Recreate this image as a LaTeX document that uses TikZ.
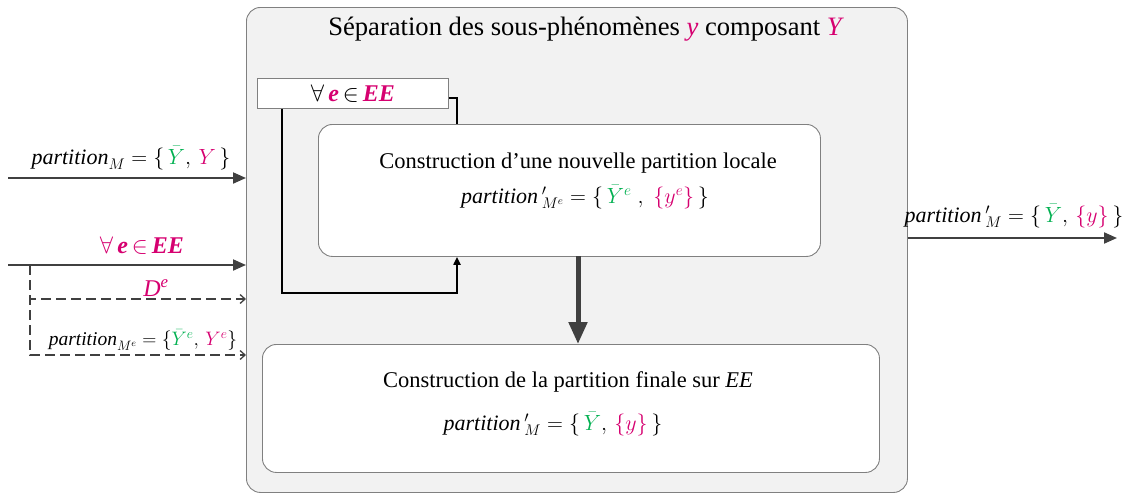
\RequirePackage{fix-cm}
\documentclass[tikz,border=0pt]{standalone}
\usepackage{amsmath}
\usepackage{fontspec}
\setmainfont{Liberation Serif}
\usetikzlibrary{arrows.meta,calc}
\definecolor{mag}{RGB}{214,0,112}
\definecolor{grn}{RGB}{0,176,80}
\definecolor{bggray}{RGB}{242,242,242}
\definecolor{edgegray}{RGB}{128,128,128}
\definecolor{darkline}{RGB}{64,64,64}
\newcommand{\fs}[1]{\fontsize{#1}{#1}\selectfont}
\begin{document}
\begin{tikzpicture}[x=1pt,y=-1pt,
  panel/.style={draw=edgegray,line width=0.9pt,rounded corners=14pt,anchor=north west,inner sep=0pt},
  whitebox/.style={panel,fill=white},
  flatbox/.style={draw=edgegray,line width=0.9pt,fill=white,anchor=north west,inner sep=0pt},
  inarrow/.style={draw=darkline,line width=2pt,-{Triangle[length=13pt,width=11pt]}},
  dasharrow/.style={draw=darkline,line width=1.3pt,dash pattern=on 10pt off 5pt,-{Straight Barb[length=5pt,width=9pt]}},
  loopline/.style={draw=black,line width=2pt},
  bigarrow/.style={draw=darkline,line width=5pt,-{Triangle[length=22pt,width=18pt]}},
  lbl/.style={inner sep=0pt,font=\fs{22}},
  ttl/.style={inner sep=0pt,font=\fs{22.5}}]
\useasboundingbox (0,0) rectangle (1124,493);
% outer panel
\node[panel,fill=bggray,minimum width=661pt,minimum height=485pt] (outer) at (246,7) {};
\node[inner sep=0pt,font=\fs{26.6}] (title) at (585,29) {Séparation des sous-phénomènes {\color{mag}\itshape y} composant {\color{mag}\itshape Y}};
% for-each box
\node[flatbox,minimum width=191pt,minimum height=30pt] (fe) at (257,78) {};
\node[inner sep=0pt,font=\fs{24}] (fetxt) at (fe.center) {$\forall$\,{\color{mag}\bfseries\itshape e}\,$\in$\,{\color{mag}\bfseries\itshape EE}};
% local box
\node[whitebox,minimum width=502pt,minimum height=132pt] (local) at (318,124) {};
\node[ttl] (localt1) at (578,163) {Construction d’une nouvelle partition locale};
\node[lbl] (localt2) at (585,197) {$\mathit{partition}\,'_{M^e} = \{\,{\color{grn}\bar{Y}^{e}}\;,\;{\color{mag}\{y^e\}}\,\}$};
% final box
\node[whitebox,minimum width=617pt,minimum height=128pt] (final) at (262,344) {};
\node[ttl] (finalt1) at (568,382) {Construction de la partition finale sur {\itshape EE}};
\node[lbl] (finalt2) at (553,424) {$\mathit{partition}\,'_{M} = \{\,{\color{grn}\bar{Y}},\,{\color{mag}\{y\}}\,\}$};
% loop
\draw[loopline,-{Triangle[length=8pt,width=7pt]}] ([xshift=25pt]fe.south west) -- ++(0,184) -| ([xshift=139pt]local.south west);
\draw[loopline] ([yshift=-5pt]fe.east) -| ([xshift=139pt]local.north west);
% thick arrow
\coordinate (ta) at (578,256);
\draw[bigarrow] (ta) -- (ta |- final.north);
% left inputs
\coordinate (in1) at (8,178);
\coordinate (in2) at (8,265);
\coordinate (d0) at (30,265);
\draw[inarrow] (in1) -- (in1 -| outer.west);
\draw[inarrow] (in2) -- (in2 -| outer.west);
\draw[dasharrow] (d0) |- (outer.west |- 0,299);
\draw[dasharrow] (d0) |- (outer.west |- 0,355);
\node[lbl] (l1) at (131,158) {$\mathit{partition}_M = \{\,{\color{grn}\bar{Y}},\,{\color{mag}Y}\,\}$};
\node[inner sep=0pt,font=\fs{24}] (l2) at (142,246) {{\color{mag}$\forall$}\,{\color{mag}\bfseries\itshape e}\,{\color{mag}$\in$}\,{\color{mag}\bfseries\itshape EE}};
\node[inner sep=0pt,font=\fs{24},text=mag] (l3) at (156,288) {\itshape D\textsuperscript{e}};
\node[inner sep=0pt,font=\fs{19.5}] (l4) at (143,340) {$\mathit{partition}_{M^e} = \{{\color{grn}\bar{Y}^{e}},\,{\color{mag}Y^e}\}$};
% output
\coordinate (out) at (1117,238);
\draw[inarrow] (out -| outer.east) -- (out);
\node[lbl] (l5) at (1014,216) {$\mathit{partition}\,'_{M} = \{\,{\color{grn}\bar{Y}},\,{\color{mag}\{y\}}\,\}$};
\end{tikzpicture}
\end{document}
